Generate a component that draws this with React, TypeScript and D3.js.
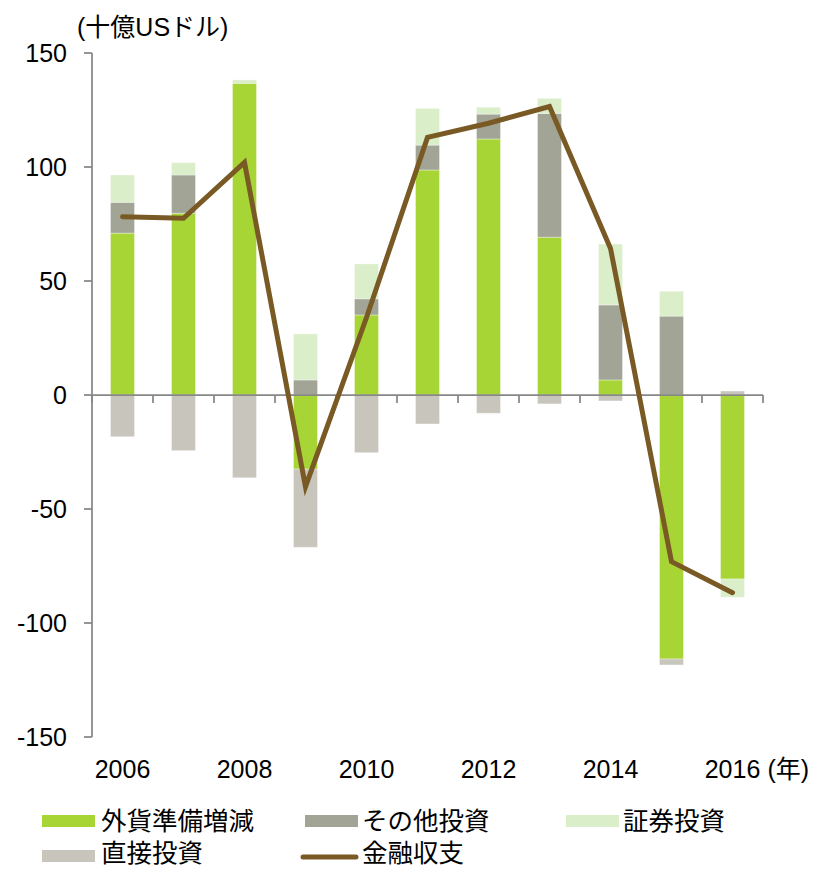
import React from "react";
import * as d3 from "d3";

const years = ["2006","2007","2008","2009","2010","2011","2012","2013","2014","2015","2016"];
const reserves = [71, 79.7, 136.7, -32.5, 35.1, 98.7, 112.3, 69.2, 6.6, -115.8, -80.7];
const otherInv = [13.5, 16.8, 0, 6.6, 7.1, 10.9, 10.9, 54.3, 32.9, 34.6, 0];
const portfolio = [12, 5.4, 1.5, 20.2, 15.3, 16.1, 3, 6.6, 26.7, 10.9, -8];
const direct = [-18.3, -24.4, -36.3, -34.3, -25.3, -12.7, -8, -3.9, -2.6, -2.6, 1.75];
const financial = [78.2, 77.5, 102, -40.2, 34, 113, 119.2, 126.5, 64.3, -73.1, -86.7];
const yTicks = [150, 100, 50, 0, -50, -100, -150];
const xLabelYears = ["2006","2008","2010","2012","2014","2016"];

const seriesKeys = ["reserves","other","portfolio","direct"];
const seriesNames = ["外貨準備増減","その他投資","証券投資","直接投資"];
const colors: Record<string,string> = {
  reserves: "#a8d536",
  other: "#a2a596",
  portfolio: "#daeec9",
  direct: "#c8c5bd",
};
const lineColor = "#7a5a24";
const axisColor = "#878787";
const FONT = "'Liberation Sans', Arial, 'Noto Sans CJK JP', sans-serif";

export default function App() {
  const W = 820, H = 869;
  const left = 92, right = 763, top = 53, bottom = 737;
  const x = d3.scaleBand<string>().domain(years).range([left, right]).paddingInner(0).paddingOuter(0);
  const y = d3.scaleLinear().domain([-150, 150]).range([bottom, top]);
  const barW = 24;

  const table = years.map((yr, i) => ({
    year: yr,
    reserves: reserves[i],
    other: otherInv[i],
    portfolio: portfolio[i],
    direct: direct[i],
  }));
  const stacked = d3.stack<any>().keys(seriesKeys).offset(d3.stackOffsetDiverging)(table);

  const line = d3.line<number>()
    .x((_, i) => (x(years[i]) as number) + x.bandwidth() / 2)
    .y((d) => y(d));

  const bw = x.bandwidth();
  const xTickPos = d3.range(years.length + 1).map((k) => left + k * bw);

  return (
    <svg width={W} height={H} style={{ position: "absolute", left: 0, top: 0, background: "#fff" }} fontFamily={FONT}>
      <rect x={0} y={0} width={W} height={H} fill="#fff" />
      {/* bars */}
      {stacked.map((s) => (
        <g key={s.key}>
          {s.map((d, i) => {
            const y0 = y(d[0]), y1 = y(d[1]);
            const h = Math.abs(y0 - y1);
            if (h < 0.01) return null;
            return (
              <rect
                key={i}
                x={(x(years[i]) as number) + bw / 2 - barW / 2}
                y={Math.min(y0, y1)}
                width={barW}
                height={h}
                fill={colors[s.key]}
                stroke="#ffffff"
                strokeOpacity={0.35}
                strokeWidth={1}
              />
            );
          })}
        </g>
      ))}
      {/* y axis */}
      <line x1={left} x2={left} y1={top} y2={bottom} stroke={axisColor} strokeWidth={1.75} />
      {yTicks.map((t) => (
        <g key={t}>
          <line x1={left - 8} x2={left} y1={y(t)} y2={y(t)} stroke={axisColor} strokeWidth={1.75} />
          <text x={67} y={y(t)} dy="0.35em" textAnchor="end" fontSize={25} fill="#000">{t}</text>
        </g>
      ))}
      {/* x axis at zero */}
      <line x1={left} x2={right} y1={y(0)} y2={y(0)} stroke={axisColor} strokeWidth={1.75} />
      {xTickPos.map((p, k) => (
        <line key={k} x1={p} x2={p} y1={y(0)} y2={y(0) + 8} stroke={axisColor} strokeWidth={1.75} />
      ))}
      {/* financial account line */}
      <path d={line(financial) || ""} fill="none" stroke={lineColor} strokeWidth={5} strokeLinecap="round" strokeLinejoin="miter" />
      {/* x labels */}
      {xLabelYears.map((yr) => (
        <text key={yr} x={(x(yr) as number) + bw / 2} y={778} textAnchor="middle" fontSize={25} fill="#000">{yr}</text>
      ))}
      <text x={(x("2016") as number) + bw / 2 + 35} y={778} textAnchor="start" fontSize={25} fill="#000">(年)</text>
      {/* y unit label */}
      <text x={77} y={36} fontSize={25} fill="#000">(十億USドル)</text>
      {/* legend */}
      <g fontSize={25.5} fill="#000">
        <rect x={42} y={815} width={53} height={12} fill={colors.reserves} />
        <text x={101} y={821} dy="0.35em">{seriesNames[0]}</text>
        <rect x={305} y={815} width={53} height={12} fill={colors.other} />
        <text x={362} y={821} dy="0.35em">{seriesNames[1]}</text>
        <rect x={566} y={815} width={53} height={12} fill={colors.portfolio} />
        <text x={623} y={821} dy="0.35em">{seriesNames[2]}</text>
        <rect x={42} y={850} width={53} height={12} fill={colors.direct} />
        <text x={101} y={853} dy="0.35em">{seriesNames[3]}</text>
        <line x1={303} x2={356} y1={857} y2={857} stroke={lineColor} strokeWidth={5} strokeLinecap="round" />
        <text x={362} y={853} dy="0.35em">金融収支</text>
      </g>
    </svg>
  );
}
